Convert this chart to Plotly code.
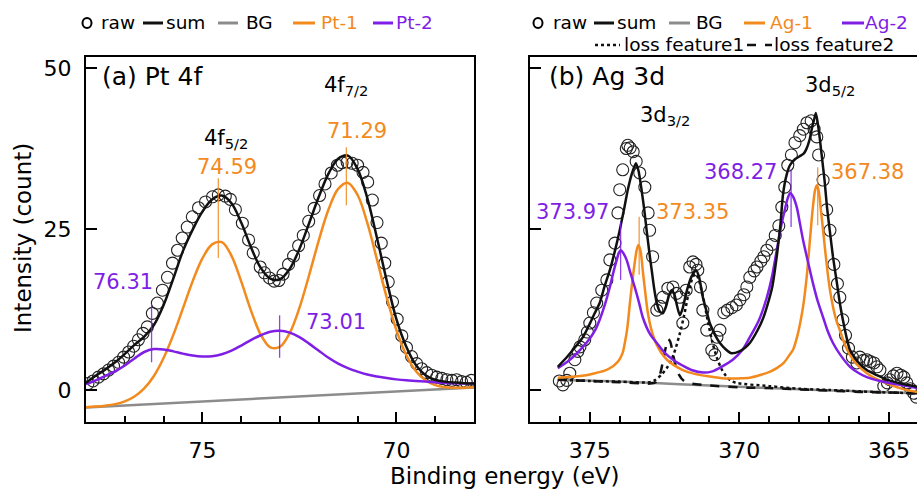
import plotly.graph_objects as go

# ---------------- data: panel (a) Pt 4f ----------------
PT_X = [78.0, 77.75, 77.5, 77.25, 77.0, 76.75, 76.5, 76.25, 76.0, 75.75, 75.5, 75.25, 75.0,
        74.75, 74.5, 74.25, 74.0, 73.75, 73.5, 73.25, 73.0, 72.75, 72.5, 72.25, 72.0,
        71.75, 71.5, 71.25, 71.0, 70.75, 70.5, 70.25, 70.0, 69.75, 69.5, 69.25, 69.0,
        68.75, 68.5, 68.25, 68.0]
PT_SUM = [1.1, 2.2, 3.2, 4.3, 5.6, 7.0, 8.3, 10.1, 13.2, 17.3, 21.6, 24.9, 27.7,
          29.6, 30.2, 29.0, 26.0, 22.2, 19.0, 17.3, 17.2, 18.8, 21.9, 25.9, 30.0,
          33.6, 35.9, 36.4, 34.3, 29.8, 23.6, 17.0, 11.0, 6.8, 3.9, 2.3, 1.6,
          1.3, 1.15, 1.05, 1.0]
PT1 = [-2.68, -2.58, -2.43, -2.19, -1.76, -1.01, 0.24, 2.17, 4.96, 8.56, 12.71, 16.91, 20.43,
       22.61, 22.96, 20.84, 16.86, 12.36, 8.65, 6.63, 6.71, 8.84, 12.74, 17.82, 23.24,
       28.02, 31.23, 32.16, 30.28, 25.94, 20.24, 14.37, 9.30, 5.48, 2.96, 1.50, 0.75,
       0.43, 0.34, 0.35, 0.41]
PT2 = [0.9, 1.5, 2.2, 2.9, 3.8, 4.9, 5.9, 6.35, 6.3, 6.0, 5.65, 5.35, 5.2,
       5.25, 5.55, 6.1, 6.9, 7.75, 8.5, 9.05, 9.2, 8.9, 8.2, 7.2, 6.1,
       5.0, 4.1, 3.4, 2.85, 2.4, 2.1, 1.85, 1.65, 1.5, 1.4, 1.3, 1.2,
       1.1, 1.05, 1.0, 1.0]
PT_BG_X = [78.0, 68.0]
PT_BG = [-2.7, 0.4]

PT_RAW_X = [77.95, 77.82, 77.68, 77.55, 77.42, 77.29, 77.16, 77.03, 76.90, 76.77, 76.65, 76.53,
            76.42, 76.29, 76.16, 76.03, 75.90, 75.77, 75.64, 75.52, 75.39, 75.26, 75.10, 74.92,
            74.74, 74.59, 74.41, 74.28, 74.15, 73.97, 73.81, 73.69, 73.51, 73.40, 73.27, 73.15,
            73.03, 72.92, 72.78, 72.65, 72.52, 72.40, 72.26, 72.12, 71.98, 71.84, 71.68, 71.52,
            71.40, 71.27, 71.14, 71.00, 70.86, 70.74, 70.62, 70.50, 70.39, 70.30, 70.21, 70.10,
            69.98, 69.86, 69.74, 69.61, 69.48, 69.35, 69.22, 69.09, 68.96, 68.83, 68.70, 68.57,
            68.45, 68.32, 68.20, 68.07]
PT_RAW_Y = [1.0, 1.4, 2.0, 2.5, 3.1, 3.7, 4.3, 5.1, 5.9, 6.8, 7.8, 8.8,
            9.8, 11.9, 13.5, 15.5, 17.5, 19.7, 21.7, 23.6, 25.3, 26.9, 28.3, 29.2,
            30.0, 30.3, 30.1, 29.6, 28.0, 25.9, 23.3, 21.3, 19.1, 18.2, 17.4, 16.9,
            17.0, 18.0, 19.5, 20.8, 22.4, 24.0, 26.2, 28.2, 30.2, 32.0, 33.7, 34.9,
            35.3, 35.4, 35.2, 34.9, 33.8, 32.3, 29.5, 26.0, 22.8, 19.7, 16.8, 13.7,
            11.0, 8.4, 6.6, 5.2, 4.1, 3.3, 2.7, 2.3, 2.0, 1.8, 1.6, 1.5,
            1.6, 1.3, 1.2, 1.5]

PT1_PEAKS = [74.59, 71.29]
PT2_PEAKS = [76.31, 73.01]

# ---------------- data: panel (b) Ag 3d ----------------
AG_RAW_X = [376.02, 375.90, 375.77, 375.67, 375.50, 375.40, 375.33, 375.17, 375.08, 375.00,
            374.88, 374.77, 374.60, 374.43, 374.33, 374.16, 374.06, 374.00, 373.90, 373.78,
            373.73, 373.65, 373.55, 373.45, 373.33, 373.16, 373.05, 373.00, 372.90, 372.76,
            372.65, 372.56, 372.39, 372.22, 372.10, 371.99, 371.89, 371.78, 371.66, 371.55,
            371.45, 371.39, 371.30, 371.22, 371.09, 370.92, 370.82, 370.75, 370.65, 370.52,
            370.40, 370.25, 370.10, 369.98, 369.85, 369.75, 369.65, 369.50, 369.41, 369.28,
            369.18, 369.08, 368.91, 368.80, 368.68, 368.58, 368.48, 368.38, 368.26, 368.14,
            367.98, 367.86, 367.74, 367.60, 367.50, 367.41, 367.35, 367.20, 367.08, 366.97,
            366.84, 366.72, 366.64, 366.54, 366.45, 366.35, 366.22, 366.07, 365.97, 365.85,
            365.74, 365.62, 365.50, 365.40, 365.30, 365.17, 365.05, 364.97, 364.85, 364.73,
            364.60, 364.50, 364.40, 364.28, 364.17, 364.08]
AG_RAW_Y = [1.4, 0.8, 1.5, 2.6, 4.7, 6.0, 6.7, 7.8, 9.0, 10.4,
            12.0, 13.5, 15.5, 17.1, 20.2, 22.8, 27.5, 31.1, 34.2, 37.5,
            38.0, 37.6, 37.0, 35.5, 33.7, 31.5, 27.5, 24.8, 20.7, 12.4,
            13.0, 14.4, 15.8, 16.0, 15.0, 14.4, 10.4, 15.5, 19.1, 19.9,
            19.5, 18.6, 16.0, 12.4, 9.3, 6.2, 5.5, 8.2, 9.3, 12.0,
            12.4, 12.8, 13.2, 14.0, 14.8, 16.0, 17.5, 18.5, 19.1, 20.0,
            20.7, 21.7, 22.6, 24.0, 25.5, 28.4, 31.5, 34.9, 36.5, 38.4,
            39.5, 40.5, 41.5, 41.8, 40.5, 39.3, 36.5, 32.6, 28.0, 24.8,
            19.5, 16.5, 14.4, 10.9, 8.5, 6.5, 5.1, 4.2, 5.1, 4.6,
            4.7, 4.4, 4.2, 3.6, 3.1, 0.6, 1.1, 1.6, 2.2, 2.6,
            2.3, 2.0, 1.1, 0.2, -0.5, -1.1]

AG_SUM_X = [376.07, 375.75, 375.5, 375.23, 375.0, 374.85, 374.67, 374.5, 374.33, 374.15,
            374.0, 373.85, 373.73, 373.6, 373.46, 373.37, 373.27, 373.18, 373.1, 373.0,
            372.93, 372.85, 372.76, 372.66, 372.56, 372.45, 372.35, 372.26, 372.17, 372.08,
            371.99, 371.9, 371.8, 371.72, 371.6, 371.45, 371.35, 371.22, 371.1, 370.99,
            370.82, 370.65, 370.45, 370.26, 370.0, 369.8, 369.65, 369.4, 369.2, 369.08,
            368.9, 368.75, 368.63, 368.54, 368.42, 368.31, 368.15, 367.98, 367.85, 367.76,
            367.65, 367.58, 367.5, 367.44, 367.35, 367.24, 367.15, 367.07, 366.97, 366.87,
            366.75, 366.64, 366.5, 366.3, 366.0, 365.74, 365.4, 365.07, 364.6, 364.06]
AG_SUM = [3.6, 5.2, 6.6, 8.2, 10.3, 11.8, 13.5, 16.2, 18.6, 21.8,
          24.8, 28.2, 31.1, 33.5, 35.2, 34.0, 31.1, 28.0, 24.8, 21.0,
          18.6, 15.8, 13.5, 12.2, 11.9, 13.0, 14.8, 15.5, 14.8, 13.0,
          11.6, 12.6, 14.6, 16.0, 17.6, 18.6, 17.6, 14.4, 12.3, 10.4,
          8.6, 7.3, 6.3, 5.7, 6.0, 6.6, 7.3, 9.2, 11.2, 12.9,
          16.0, 20.7, 25.5, 30.4, 33.4, 34.9, 35.8, 36.3, 36.7, 37.4,
          38.9, 40.5, 42.0, 43.0, 40.5, 36.2, 32.5, 28.4, 24.5, 20.7,
          17.0, 13.5, 10.0, 6.2, 4.2, 3.1, 2.3, 1.6, 1.0, 0.5]

AG1_X = [376.07, 375.75, 375.5, 375.25, 375.0, 374.75, 374.5, 374.25, 374.1, 374.0,
         373.9, 373.83, 373.75, 373.66, 373.58, 373.5, 373.43, 373.37, 373.3, 373.23,
         373.15, 373.06, 372.95, 372.85, 372.76, 372.6, 372.42, 372.2, 371.89, 371.5,
         371.0, 370.5, 370.0, 369.65, 369.25, 368.95, 368.75, 368.5, 368.3, 368.2,
         368.05, 367.95, 367.87, 367.75, 367.64, 367.55, 367.47, 367.41, 367.35, 367.28,
         367.2, 367.08, 366.97, 366.85, 366.75, 366.64, 366.45, 366.2, 365.9, 365.54,
         365.0, 364.5, 364.06]
AG1 = [1.9, 2.0, 2.1, 2.2, 2.4, 2.7, 3.0, 3.6, 4.2, 4.8,
       5.8, 7.3, 9.5, 13.5, 16.8, 19.7, 21.8, 22.5, 21.5, 18.6,
       15.3, 12.0, 9.5, 8.0, 7.0, 5.7, 4.7, 3.9, 3.1, 2.5,
       2.1, 1.8, 1.8, 1.9, 2.4, 2.9, 3.4, 4.3, 5.6, 6.3,
       8.6, 10.8, 12.9, 17.5, 23.3, 28.0, 31.0, 31.8, 31.0, 28.2,
       24.8, 19.5, 15.5, 12.5, 10.7, 9.3, 6.8, 4.7, 3.2, 2.0,
       0.9, 0.1, -0.3]

AG2_X = [376.07, 375.75, 375.5, 375.23, 375.0, 374.8, 374.67, 374.5, 374.33, 374.2,
         374.1, 374.03, 373.97, 373.9, 373.77, 373.65, 373.5, 373.35, 373.23, 373.0,
         372.76, 372.5, 372.22, 371.9, 371.6, 371.2, 370.9, 370.6, 370.22, 369.9,
         369.65, 369.35, 369.08, 368.9, 368.75, 368.6, 368.48, 368.38, 368.3, 368.2,
         368.08, 367.98, 367.87, 367.7, 367.54, 367.38, 367.2, 367.05, 366.87, 366.6,
         366.3, 366.0, 365.74, 365.3, 364.9, 364.63, 364.06]
AG2 = [3.4, 4.4, 5.4, 6.7, 8.0, 9.5, 10.9, 13.2, 16.0, 18.5,
       20.2, 21.3, 21.7, 21.4, 20.2, 18.3, 16.0, 13.5, 11.3, 8.8,
       7.3, 5.8, 4.7, 3.8, 3.1, 2.7, 2.9, 3.6, 4.7, 6.2,
       8.2, 10.8, 14.4, 17.8, 21.7, 25.5, 28.0, 29.8, 30.6, 30.0,
       28.4, 26.0, 23.3, 19.8, 16.6, 13.8, 11.3, 9.2, 7.3, 5.3,
       3.6, 2.6, 2.0, 1.4, 1.0, 0.8, 0.3]

AG_BG_X = [376.07, 374.0, 372.0, 370.0, 368.0, 366.0, 364.06]
AG_BG = [1.6, 1.3, 0.9, 0.5, 0.1, -0.2, -0.5]

LF1_X = [376.07, 375.0, 374.0, 373.0, 372.8, 372.6, 372.4, 372.2, 372.0, 371.85,
         371.7, 371.55, 371.45, 371.35, 371.2, 371.05, 370.9, 370.75, 370.6, 370.45,
         370.3, 370.1, 369.0, 368.0, 367.0, 366.0, 365.0, 364.06]
LF1 = [1.6, 1.4, 1.3, 1.2, 1.6, 2.4, 3.6, 5.5, 8.6, 11.5,
       15.0, 17.6, 18.0, 17.0, 14.2, 10.6, 7.4, 5.0, 3.3, 2.2,
       1.5, 1.1, 0.6, 0.2, 0.0, -0.2, -0.4, -0.5]

LF2_X = [376.07, 375.0, 374.0, 373.0, 372.8, 372.65, 372.55, 372.45, 372.38, 372.31,
         372.23, 372.14, 372.02, 371.85, 371.6, 371.0, 370.0, 369.0, 368.0, 367.0,
         366.0, 365.0, 364.06]
LF2 = [1.6, 1.4, 1.2, 1.0, 1.2, 2.5, 4.6, 6.8, 7.9, 7.5,
       5.8, 4.0, 2.4, 1.4, 1.0, 0.7, 0.4, 0.3, 0.1, -0.1,
       -0.3, -0.4, -0.5]

AG1_PEAKS = [373.35, 367.38]
AG2_PEAKS = [373.97, 368.27]

# peak marker segment extents (y, in data units)
PT1_TICK = [(20.5, 32.9), (28.7, 37.7)]
PT2_TICK = [(4.3, 13.2), (5.0, 11.6)]
AG1_TICK = [(17.9, 26.9), (25.6, 34.6)]
AG2_TICK = [(17.1, 26.1), (25.3, 34.2)]

# ---------------- styling ----------------
FONT = "DejaVu Sans"
ORANGE = "#F28A1E"
PURPLE = "#7F1FE5"
GRAY = "#8C8C8C"
BLACK = "#111111"

W, H = 917, 492
ML, MR, MT, MB = 86, 0, 57, 70
PW, PH = W - ML - MR, H - MT - MB


def xp(px):
    return (px - ML) / PW


def yp(py):
    return (H - MB - py) / PH


fig = go.Figure()


def line(x, y, color, xa, ya, width=2.5, dash="solid", shape="spline", smooth=1.0):
    ln = dict(color=color, width=width, dash=dash, shape=shape)
    if shape == "spline":
        ln["smoothing"] = smooth
    fig.add_trace(go.Scatter(x=x, y=y, mode="lines", xaxis=xa, yaxis=ya,
                             line=ln, hoverinfo="skip"))


def raw(x, y, xa, ya):
    fig.add_trace(go.Scatter(x=x, y=y, mode="markers", xaxis=xa, yaxis=ya,
                             marker=dict(symbol="circle-open", size=12, color="#222222",
                                         line=dict(width=1.1, color="#222222")),
                             hoverinfo="skip"))


def ticks(peaks, ext, color, xa, ya):
    for p, (lo, hi) in zip(peaks, ext):
        fig.add_trace(go.Scatter(x=[p, p], y=[lo, hi], mode="lines", xaxis=xa, yaxis=ya,
                                 line=dict(color=color, width=1.3), opacity=0.85,
                                 hoverinfo="skip"))


# panel a
raw(PT_RAW_X, PT_RAW_Y, "x", "y")
line(PT_BG_X, PT_BG, GRAY, "x", "y", shape="linear")
line(PT_X, PT1, ORANGE, "x", "y")
line(PT_X, PT2, PURPLE, "x", "y")
line(PT_X, PT_SUM, BLACK, "x", "y")
ticks(PT1_PEAKS, PT1_TICK, ORANGE, "x", "y")
ticks(PT2_PEAKS, PT2_TICK, PURPLE, "x", "y")

# panel b
raw(AG_RAW_X, AG_RAW_Y, "x2", "y2")
line(AG_BG_X, AG_BG, GRAY, "x2", "y2")
line(LF1_X, LF1, BLACK, "x2", "y2", dash="dot", smooth=0.8)
line(LF2_X, LF2, BLACK, "x2", "y2", dash="dash", smooth=0.8)
line(AG1_X, AG1, ORANGE, "x2", "y2", smooth=0.8)
line(AG2_X, AG2, PURPLE, "x2", "y2", smooth=0.8)
line(AG_SUM_X, AG_SUM, BLACK, "x2", "y2", smooth=0.6)
ticks(AG1_PEAKS, AG1_TICK, ORANGE, "x2", "y2")
ticks(AG2_PEAKS, AG2_TICK, PURPLE, "x2", "y2")

YR = [-4.97, 51.71]
tickfont = dict(family=FONT, size=22, color="black")
common_x = dict(tickmode="linear", tick0=0, dtick=5, ticks="inside", ticklen=10, tickwidth=2,
                tickcolor="black", showline=True, linewidth=2, linecolor="black", mirror=True,
                showgrid=False, zeroline=False, tickfont=tickfont, ticklabelstandoff=8,
                minor=dict(tickmode="linear", tick0=0, dtick=1, ticks="inside", ticklen=6,
                           tickwidth=1.5, tickcolor="black", showgrid=False))
common_y = dict(range=YR, tickmode="linear", tick0=0, dtick=25, ticks="inside", ticklen=11,
                tickwidth=2, tickcolor="black", showline=True, linewidth=2, linecolor="black",
                showgrid=False, zeroline=False, tickfont=tickfont, domain=[0, 1])

fig.update_layout(
    width=W, height=H, margin=dict(l=ML, r=MR, t=MT, b=MB),
    plot_bgcolor="white", paper_bgcolor="white", showlegend=False,
    xaxis=dict(domain=[0, xp(474)], range=[78, 68], anchor="y", **common_x),
    yaxis=dict(anchor="x", mirror=True, ticklabelstandoff=8, **common_y),
    xaxis2=dict(domain=[xp(530), 1], range=[377, 364.06], anchor="y2", **common_x),
    yaxis2=dict(anchor="x2", mirror=False, showticklabels=False, **common_y),
)

ann = []
shp = []


def text(t, px, py, color="black", size=21, xanchor="center", angle=0):
    ann.append(dict(text=t, x=xp(px), y=yp(py), xref="paper", yref="paper", showarrow=False,
                    font=dict(family=FONT, size=size, color=color), xanchor=xanchor,
                    yanchor="middle", textangle=angle))


def hl(x0, x1, py, color, dash="solid", width=3):
    shp.append(dict(type="line", xref="paper", yref="paper", x0=xp(x0), x1=xp(x1),
                    y0=yp(py), y1=yp(py), line=dict(color=color, width=width, dash=dash)))


def circ(cx, cy):
    shp.append(dict(type="circle", xref="paper", yref="paper", x0=xp(cx - 4.5), x1=xp(cx + 4.5),
                    y0=yp(cy + 5), y1=yp(cy - 5), line=dict(color="black", width=2)))


LS = 18.5
# legend a
circ(87, 23); text("raw", 99, 23, size=LS, xanchor="left")
hl(143, 163, 23, BLACK); text("sum", 164, 23, size=LS, xanchor="left")
hl(218, 238, 23, GRAY); text("BG", 244, 23, size=LS, xanchor="left")
hl(293, 315, 23, ORANGE); text("Pt-1", 319, 23, ORANGE, size=LS, xanchor="left")
hl(373, 393, 23, PURPLE); text("Pt-2", 394, 23, PURPLE, size=LS, xanchor="left")
# legend b
circ(538, 23); text("raw", 551, 23, size=LS, xanchor="left")
hl(594, 614, 23, BLACK); text("sum", 615, 23, size=LS, xanchor="left")
hl(669, 690, 23, GRAY); text("BG", 694, 23, size=LS, xanchor="left")
hl(744, 765, 23, ORANGE); text("Ag-1", 768, 23, ORANGE, size=LS, xanchor="left")
hl(842, 864, 23, PURPLE); text("Ag-2", 863, 23, PURPLE, size=LS, xanchor="left")
hl(595, 620, 45, BLACK, dash="dot", width=2.5); text("loss feature1", 622, 45, size=LS, xanchor="left")
hl(747, 772, 45, BLACK, dash="dash", width=2.5); text("loss feature2", 772, 45, size=LS, xanchor="left")

# panel labels
text("(a) Pt 4f", 100, 76, size=25, xanchor="left")
text("(b) Ag 3d", 547, 76, size=25, xanchor="left")
text("4f<sub>7/2</sub>", 322, 86, size=21, xanchor="left")
text("4f<sub>5/2</sub>", 202, 139, size=21, xanchor="left")
text("3d<sub>3/2</sub>", 638, 116, size=21, xanchor="left")
text("3d<sub>5/2</sub>", 803, 86, size=21, xanchor="left")

# peak position labels
for p, (cx, cy) in zip(PT1_PEAKS, [(227, 167), (357, 131)]):
    text(f"{p:.2f}", cx, cy, ORANGE)
for p, (cx, cy) in zip(PT2_PEAKS, [(123, 282), (336, 322)]):
    text(f"{p:.2f}", cx, cy, PURPLE)
for p, (cx, cy) in zip(AG1_PEAKS, [(692, 212), (867, 172)]):
    text(f"{p:.2f}", cx, cy, ORANGE)
for p, (cx, cy) in zip(AG2_PEAKS, [(572, 212), (740, 172)]):
    text(f"{p:.2f}", cx, cy, PURPLE)

# axis titles
text("Binding energy (eV)", 505, 476, size=23)
text("Intensity (count)", 23, 238, size=23, angle=-90)

fig.update_layout(annotations=ann, shapes=shp)

fig.write_html("out.html", config={"displayModeBar": False},
               post_script="document.body.style.margin='0';")
